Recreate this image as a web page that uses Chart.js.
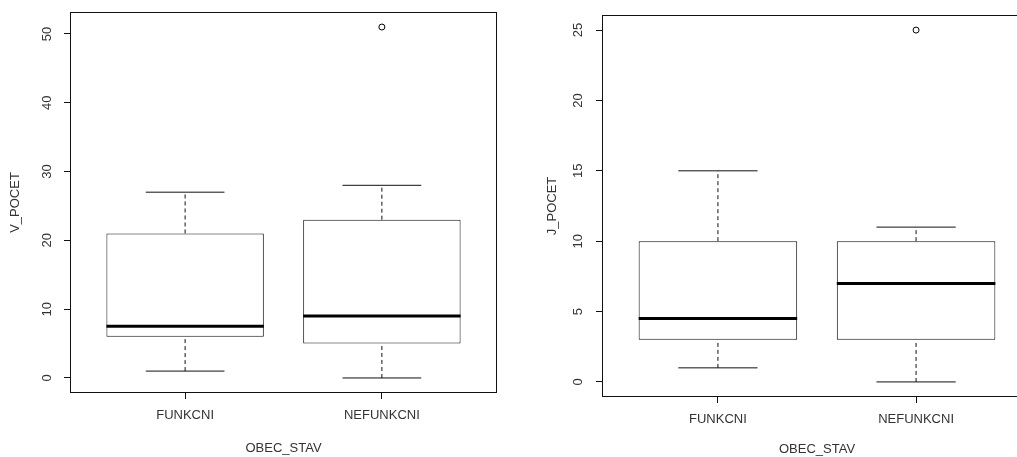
<!DOCTYPE html>
<html>
<head>
<meta charset="utf-8">
<script src="https://cdn.jsdelivr.net/npm/chart.js@4.4.0/dist/chart.umd.min.js"></script>
<style>
html, body { margin: 0; padding: 0; background: #fff; overflow: hidden; width: 1017px; height: 457px; }
#left { position: absolute; left: 0; top: 0; }
#right { position: absolute; left: 510px; top: 0; }
</style>
</head>
<body>
<canvas id="left" width="510" height="457"></canvas>
<canvas id="right" width="540" height="457"></canvas>
<script>
// skupiny na ose x
var categories = ['FUNKCNI', 'NEFUNKCNI'];

// V_POCET (levy graf)
var vLow = [1, 0];
var vQ1 = [6, 5];
var vMedian = [7.5, 9];
var vQ3 = [21, 23];
var vHigh = [27, 28];
var vOutliers = [[], [51]];
var vTicks = [0, 10, 20, 30, 40, 50];

// J_POCET (pravy graf)
var jLow = [1, 0];
var jQ1 = [3, 3];
var jMedian = [4.5, 7];
var jQ3 = [10, 10];
var jHigh = [15, 11];
var jOutliers = [[], [25]];
var jTicks = [0, 5, 10, 15, 20, 25];

Chart.defaults.font.family = '"Liberation Sans", Arial, sans-serif';
Chart.defaults.font.size = 13;
Chart.defaults.color = '#333';

// vzdalenost dvou skupin v pixelech
function boxSpacing(c) {
  var s = c.chart.scales.x;
  return Math.abs(s.getPixelForValue(2) - s.getPixelForValue(1));
}

// ramecek a otocene popisky osy y jako v R
var rStyle = {
  id: 'rStyle',
  afterDraw: function(chart, args, opts) {
    var ctx = chart.ctx, a = chart.chartArea, y = chart.scales.y;
    ctx.save();
    ctx.strokeStyle = '#111';
    ctx.lineWidth = 1;
    ctx.strokeRect(a.left - 0.5, a.top - 0.5, a.right - a.left + 1, a.bottom - a.top + 1);
    ctx.fillStyle = '#333';
    ctx.font = '13px "Liberation Sans", Arial, sans-serif';
    ctx.textAlign = 'center';
    ctx.textBaseline = 'middle';
    y.ticks.forEach(function(t) {
      ctx.save();
      ctx.translate(opts.labelX, y.getPixelForValue(t.value));
      ctx.rotate(-Math.PI / 2);
      ctx.fillText(String(t.value), 0, 0);
      ctx.restore();
    });
    ctx.restore();
  }
};

function boxplot(id, low, q1, med, q3, high, outliers, ticks, yTitle, lay) {
  var boxes = [], medians = [], caps = [], whiskers = [], outs = [];
  for (var i = 0; i < categories.length; i++) {
    var x = i + 1;
    boxes.push({x: x, y: [q1[i], q3[i]]});
    medians.push({x: x, y: med[i]});
    caps.push({x: x, y: low[i]}, {x: x, y: high[i]});
    whiskers.push({x: x, y: low[i]}, {x: x, y: q1[i]}, {x: x, y: null},
                  {x: x, y: q3[i]}, {x: x, y: high[i]}, {x: x, y: null});
    outliers[i].forEach(function(v) { outs.push({x: x, y: v}); });
  }

  // rozsah os jako v R (+4 %)
  var all = low.concat(high, [].concat.apply([], outliers));
  var lo = Math.min.apply(null, all), hi = Math.max.apply(null, all);
  var n = categories.length;

  new Chart(document.getElementById(id), {
    type: 'bar',
    data: {
      datasets: [
        { type: 'bar', data: boxes, backgroundColor: '#fff', borderColor: '#111', borderWidth: 1,
          borderSkipped: false, barPercentage: 1, categoryPercentage: 0.8, order: 4 },
        { type: 'line', data: whiskers, borderColor: '#111', borderWidth: 1, borderDash: [4, 3],
          pointRadius: 0, spanGaps: false, tension: 0, order: 3 },
        { type: 'scatter', data: caps, pointStyle: 'line', borderColor: '#111', pointBorderColor: '#111',
          pointBorderWidth: 1, pointRadius: function(c) { return boxSpacing(c) * 0.2; }, order: 2 },
        { type: 'scatter', data: medians, pointStyle: 'line', borderColor: '#000', pointBorderColor: '#000',
          pointBorderWidth: 3, pointRadius: function(c) { return boxSpacing(c) * 0.4; }, order: 1 },
        { type: 'scatter', data: outs, pointStyle: 'circle', pointRadius: 3, pointBackgroundColor: '#fff',
          borderColor: '#000', pointBorderColor: '#000', pointBorderWidth: 1, order: 0 }
      ]
    },
    options: {
      responsive: false,
      animation: false,
      devicePixelRatio: 1,
      events: [],
      layout: { padding: { left: 0, top: lay.top, right: lay.right, bottom: 0 } },
      plugins: { legend: { display: false }, tooltip: { enabled: false }, rStyle: { labelX: lay.lx } },
      scales: {
        x: {
          type: 'linear', bounds: 'data', offset: false,
          min: 0.5 - 0.04 * n, max: n + 0.5 + 0.04 * n,
          afterBuildTicks: function(s) { s.ticks = categories.map(function(c, i) { return {value: i + 1}; }); },
          afterFit: function(s) { s.height = lay.xh; },
          ticks: { callback: function(v) { return categories[v - 1]; }, padding: 9, autoSkip: false, maxRotation: 0, color: '#333' },
          grid: { display: true, offset: false, drawOnChartArea: false, drawTicks: true, tickLength: 7, color: '#111' },
          border: { display: false },
          title: { display: true, text: 'OBEC_STAV', color: '#333', padding: { top: 0, bottom: lay.xtp } }
        },
        y: {
          type: 'linear', bounds: 'data',
          min: lo - 0.04 * (hi - lo), max: hi + 0.04 * (hi - lo),
          afterBuildTicks: function(s) { s.ticks = ticks.map(function(v) { return {value: v}; }); },
          afterFit: function(s) { s.width = lay.yw; },
          ticks: { display: false },
          grid: { display: true, drawOnChartArea: false, drawTicks: true, tickLength: 7, color: '#111' },
          border: { display: false },
          title: { display: true, text: yTitle, color: '#333', padding: { top: lay.ytp, bottom: 0 } }
        }
      }
    },
    plugins: [rStyle]
  });
}

boxplot('left', vLow, vQ1, vMedian, vQ3, vHigh, vOutliers, vTicks, 'V_POCET',
  { yw: 71, xh: 65, top: 13, right: 14, lx: 47, ytp: 7.6, xtp: 1.2 });
boxplot('right', jLow, jQ1, jMedian, jQ3, jHigh, jOutliers, jTicks, 'J_POCET',
  { yw: 93, xh: 61, top: 16, right: 19, lx: 68, ytp: 34.2, xtp: 0 });
</script>
</body>
</html>
